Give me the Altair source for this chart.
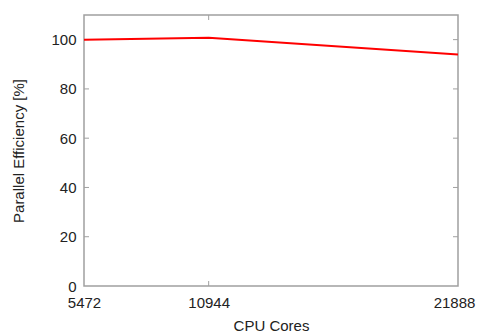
import altair as alt
import pandas as pd

cores = [5472, 10944, 21888]
efficiency = [100.0, 100.8, 94.0]
x_ticks = [5472, 10944, 21888]
x_inner_ticks = [10944]
y_ticks = [0, 20, 40, 60, 80, 100]

W, H = 374, 271
FONT = "Liberation Sans"
FRAME = "#a0a0a0"

line_df = pd.DataFrame({"cores": cores, "eff": efficiency})
xt_df = pd.DataFrame({"cores": x_inner_ticks})
yt_df = pd.DataFrame({"eff": y_ticks[1:]})

xscale = alt.Scale(domain=[5472, 21888], nice=False, zero=False)
yscale = alt.Scale(domain=[0, 110], nice=False)

xaxis = alt.Axis(values=x_ticks, ticks=False, domain=False, grid=False,
                 labelPadding=9, titlePadding=8, format="d", labelFlush=False,
                 labelOffset={"condition": {"test": "datum.value == 21888", "value": -4}, "value": 0},
                 labelFont=FONT, titleFont=FONT, labelFontSize=15, titleFontSize=15,
                 labelColor="#222222", titleColor="#222222", titleFontWeight="normal")
yaxis = alt.Axis(values=y_ticks, ticks=False, domain=False, grid=False,
                 labelPadding=8, titlePadding=24,
                 labelFont=FONT, titleFont=FONT, labelFontSize=15, titleFontSize=15,
                 labelColor="#222222", titleColor="#222222", titleFontWeight="normal")

line = alt.Chart(line_df).mark_line(color="#ff0000", strokeWidth=2, clip=True).encode(
    x=alt.X("cores:Q", scale=xscale, axis=xaxis, title="CPU Cores"),
    y=alt.Y("eff:Q", scale=yscale, axis=yaxis, title="Parallel Efficiency [%]"),
)

tick_style = dict(color=FRAME, strokeWidth=1)
yt_left = alt.Chart(yt_df).mark_rule(**tick_style).encode(
    y=alt.Y("eff:Q", scale=yscale), x=alt.value(0), x2=alt.value(5))
yt_right = alt.Chart(yt_df).mark_rule(**tick_style).encode(
    y=alt.Y("eff:Q", scale=yscale), x=alt.value(W - 5), x2=alt.value(W))
xt_top = alt.Chart(xt_df).mark_rule(**tick_style).encode(
    x=alt.X("cores:Q", scale=xscale), y=alt.value(0), y2=alt.value(5))
xt_bottom = alt.Chart(xt_df).mark_rule(**tick_style).encode(
    x=alt.X("cores:Q", scale=xscale), y=alt.value(H - 5), y2=alt.value(H))

chart = alt.layer(yt_left, yt_right, xt_top, xt_bottom, line).properties(
    width=W, height=H,
    autosize=alt.AutoSizeParams(type="none"),
    padding={"left": 76, "top": 7, "right": 19, "bottom": 46},
    background="white",
).configure_view(
    stroke=FRAME, strokeWidth=1.5
).configure_axis(
    labelFont=FONT, titleFont=FONT, labelFontSize=15, titleFontSize=15,
    labelColor="#222222", titleColor="#222222", titleFontWeight="normal",
)

chart.save("out.html", embed_options={"renderer": "svg", "actions": False})
